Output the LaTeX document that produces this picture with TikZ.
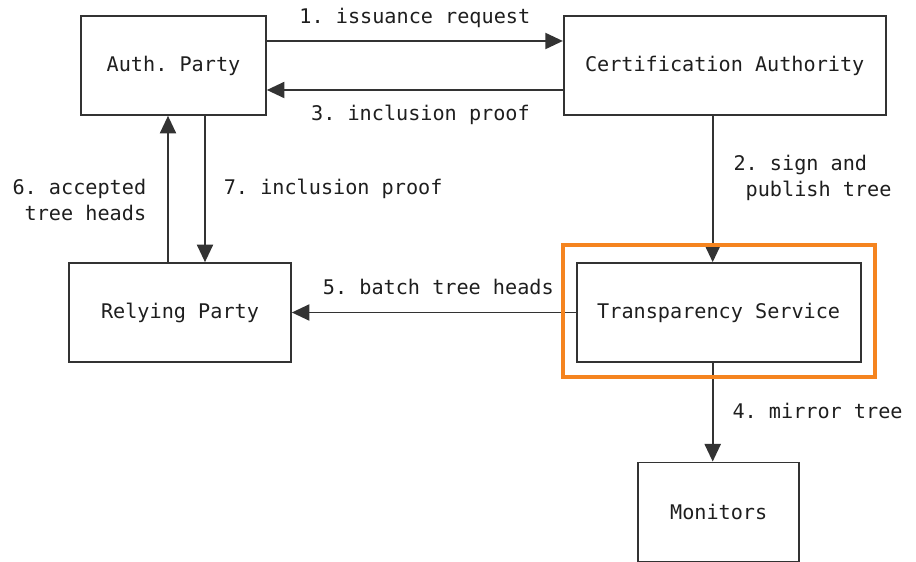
\documentclass[tikz,border=0pt]{standalone}
\usepackage{fontspec}
\setmonofont{DejaVu Sans Mono}
\usetikzlibrary{positioning, arrows.meta}

\definecolor{linegray}{HTML}{333333}
\definecolor{textgray}{HTML}{1E1E1E}
\definecolor{tsorange}{HTML}{F5841F}

\tikzset{
  diafont/.style={font=\ttfamily\fontsize{14.35pt}{18.5pt}\selectfont},
  box/.style={draw=linegray, line width=1.2pt, minimum height=2.475cm,
    text=textgray, diafont},
  msg/.style={inner sep=0pt, text=textgray, diafont},
  flow/.style={draw=linegray, line width=1.2pt,
    -{Triangle[length=12.5pt,width=11.5pt]}}
}

\begin{document}
\begin{tikzpicture}
\useasboundingbox (0,0) rectangle (22.9,14.025);

\node[box, minimum width=4.625cm] (auth) at (4.3375,12.3875) {Auth. Party};
\node[box, minimum width=8.05cm, right=7.4cm of auth] (ca) {Certification Authority};

\node[box, minimum width=5.55cm] (rp) at (4.5,6.2125) {Relying Party};
\node[box, minimum width=7.1cm, right=7.1cm of rp] (ts) {Transparency Service};

\node[box, minimum width=4.025cm, below=2.4675cm of ts] (mon) {Monitors};

\coordinate (a2) at ([xshift=-0.3cm]ca.south);
\coordinate (a6) at ([xshift=-0.1375cm]auth.south);
\coordinate (a7) at ([xshift=0.7875cm]auth.south);

\draw
    ([yshift=0.6125cm]auth.east) edge[flow] node[msg, anchor=base, yshift=0.44cm]
        {1. issuance request} ([yshift=0.6125cm]ca.west)
    ([yshift=-0.6125cm]ca.west) edge[flow] node[msg, anchor=base, yshift=-0.77cm, xshift=0.14cm]
        {3. inclusion proof} ([yshift=-0.6125cm]auth.east)
    (a2) edge[flow] node[msg, anchor=west, align=left, xshift=0.5cm, yshift=0.28cm]
        {2. sign and\\\hspace*{0.602em}publish tree} (a2 |- ts.north)
    (a2 |- ts.south) edge[flow] node[msg, anchor=base west, xshift=0.475cm, yshift=-0.16cm]
        {4. mirror tree} (a2 |- mon.north)
    (ts.west) edge[flow] node[msg, anchor=base, xshift=0.1125cm, yshift=0.45cm]
        {5. batch tree heads} (ts.west -| rp.east)
    (a6 |- rp.north) edge[flow] node[msg, anchor=east, align=right, xshift=-0.525cm, yshift=-0.27cm]
        {6. accepted\\tree heads} (a6)
    (a7) edge[flow] node[msg, anchor=base west, xshift=0.45cm, yshift=-0.15cm]
        {7. inclusion proof} (a7 |- rp.north)
    ;

% highlight round the transparency service
\draw[tsorange, line width=2.8pt]
    ([xshift=-0.3325cm, yshift=0.44cm]ts.north west)
    rectangle ([xshift=0.3425cm, yshift=-0.3425cm]ts.south east);
\end{tikzpicture}
\end{document}
